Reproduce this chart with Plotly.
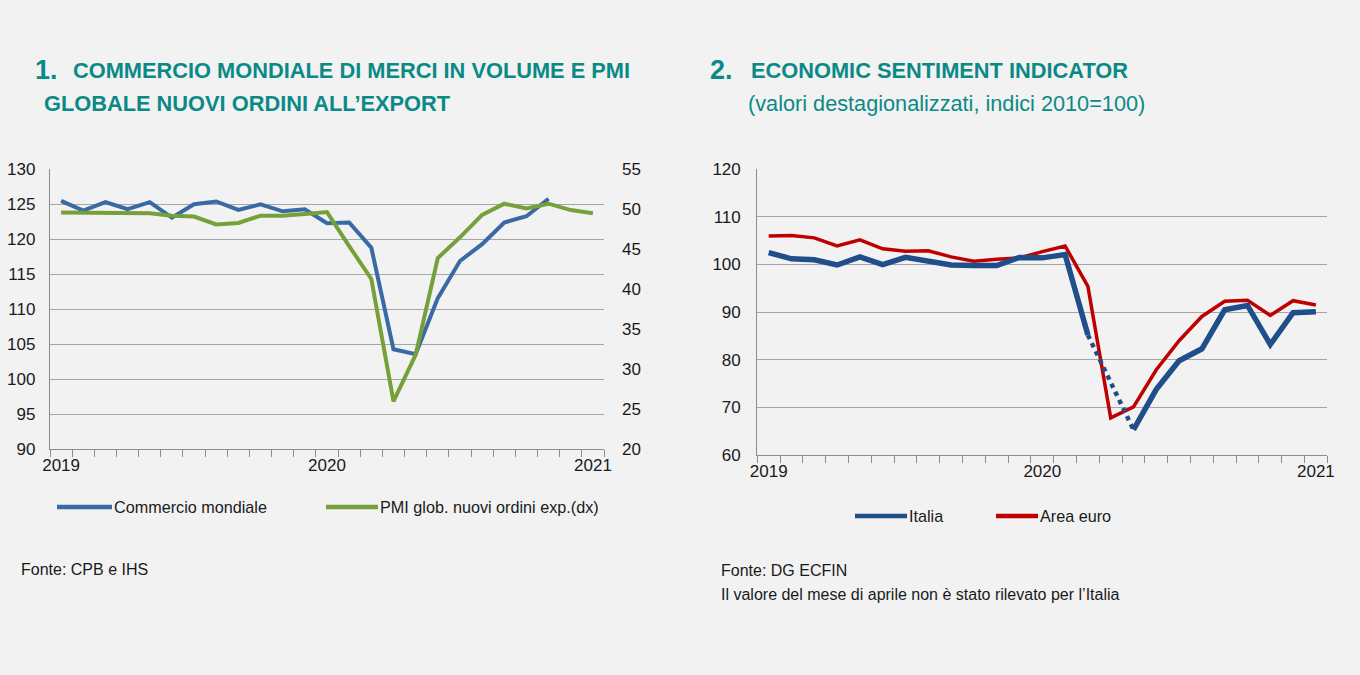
import plotly.graph_objects as go

# ---------------- data ----------------
months = ["2019-01", "2019-02", "2019-03", "2019-04", "2019-05", "2019-06", "2019-07", "2019-08",
          "2019-09", "2019-10", "2019-11", "2019-12", "2020-01", "2020-02", "2020-03", "2020-04",
          "2020-05", "2020-06", "2020-07", "2020-08", "2020-09", "2020-10", "2020-11", "2020-12",
          "2021-01"]
year_labels = ["2019", "2020", "2021"]
year_pos = [0, 12, 24]

commercio = [125.5, 124.1, 125.3, 124.3, 125.3, 123.1, 125.0, 125.4, 124.2, 125.0, 124.0, 124.3,
             122.3, 122.4, 118.8, 104.3, 103.6, 111.6, 116.9, 119.3, 122.4, 123.3, 125.8, None, None]
pmi = [49.6, 49.6, 49.5, 49.6, 49.5, 49.2, 49.1, 48.1, 48.3, 49.2, 49.2, 49.4,
       49.65, 45.4, 41.3, 26.0, 31.8, 43.9, 46.5, 49.3, 50.7, 50.1, 50.7, 49.9, 49.5]

italia = [102.5, 101.2, 101.0, 99.9, 101.6, 100.0, 101.5, 100.6, 99.9, 99.8, 99.8, 101.5,
          101.4, 102.1, 85.2, None, 65.3, 73.8, 79.8, 82.3, 90.5, 91.4, 83.2, 89.9, 90.1]
area_euro = [106.0, 106.1, 105.6, 103.9, 105.2, 103.3, 102.8, 102.9, 101.6, 100.7, 101.1, 101.4,
             102.7, 103.9, 95.4, 67.8, 70.1, 77.9, 84.0, 89.1, 92.3, 92.5, 89.3, 92.4, 91.5]

left1_ticks = [90, 95, 100, 105, 110, 115, 120, 125, 130]
right1_ticks = [20, 25, 30, 35, 40, 45, 50, 55]
left2_ticks = [60, 70, 80, 90, 100, 110, 120]

# ---------------- styles ----------------
FONT = "Liberation Sans Narrow, Arial Narrow, Liberation Sans, Arial, sans-serif"
BG = "#F2F2F2"
GRID = "#A6A6A6"
AXIS = "#8C8C8C"
TEAL = "#0A8A86"
C_COMM = "#3A6AA3"
C_PMI = "#76A03A"
C_ITA = "#1F4E8A"
C_EUR = "#C00000"

W, H = 1360, 675
def px(x):
    return x / W
def py(y):
    return 1 - y / H

xidx = list(range(len(months)))

fig = go.Figure()

fig.add_trace(go.Scatter(x=xidx, y=commercio, mode="lines", name="Commercio mondiale",
                         line=dict(color=C_COMM, width=4), xaxis="x", yaxis="y"))
fig.add_trace(go.Scatter(x=xidx, y=pmi, mode="lines", name="PMI glob. nuovi ordini exp.(dx)",
                         line=dict(color=C_PMI, width=4), xaxis="x", yaxis="y2"))

fig.add_trace(go.Scatter(x=xidx, y=area_euro, mode="lines", name="Area euro",
                         line=dict(color=C_EUR, width=3.5), xaxis="x2", yaxis="y3"))
fig.add_trace(go.Scatter(x=xidx, y=italia, mode="lines", name="Italia",
                         line=dict(color=C_ITA, width=5.5), xaxis="x2", yaxis="y3"))
# dotted connection across the missing April value
fig.add_trace(go.Scatter(x=[xidx[14], xidx[16]], y=[italia[14], italia[16]], mode="lines",
                         line=dict(color=C_ITA, width=4.5, dash="dot"), xaxis="x2", yaxis="y3",
                         showlegend=False))

tickfont = dict(family=FONT, size=17, color="#1A1A1A")
minor_ticks = [i - 0.5 for i in range(len(months) + 1)]

xcommon = dict(range=[-0.5, len(months) - 0.5], tickmode="array", tickvals=year_pos,
               ticktext=year_labels, ticks="", showgrid=False, zeroline=False, automargin=False,
               showline=True, linecolor=AXIS, linewidth=1.3, tickfont=tickfont,
               minor=dict(tickmode="array", tickvals=minor_ticks, ticks="outside",
                          ticklen=7, tickcolor=AXIS, tickwidth=1.3, showgrid=False))

fig.update_layout(
    width=W, height=H,
    margin=dict(l=0, r=0, t=0, b=0, autoexpand=False),
    paper_bgcolor=BG, plot_bgcolor=BG,
    showlegend=False,
    font=dict(family=FONT, color="#1A1A1A"),
    xaxis=dict(domain=[px(50), px(604)], anchor="y", **xcommon),
    yaxis=dict(domain=[py(449.3), py(169.3)], range=[90, 130], tickvals=left1_ticks,
               showgrid=True, gridcolor=GRID, gridwidth=1.2, zeroline=False, automargin=False,
               showline=True, linecolor=AXIS, linewidth=1.3, ticks="", tickfont=tickfont,
               ticklabelstandoff=10),
    yaxis2=dict(domain=[py(449.3), py(169.3)], range=[20, 55], tickvals=right1_ticks,
                overlaying="y", side="right", anchor="x", showgrid=False, zeroline=False,
                automargin=False, showline=False, ticks="", tickfont=tickfont,
                ticklabelstandoff=17),
    xaxis2=dict(domain=[px(757.3), px(1327.3)], anchor="y3", **xcommon),
    yaxis3=dict(domain=[py(455), py(169.3)], range=[60, 120], tickvals=left2_ticks,
                anchor="x2", showgrid=True, gridcolor=GRID, gridwidth=1.2, zeroline=False,
                automargin=False, showline=True, linecolor=AXIS, linewidth=1.3, ticks="",
                tickfont=tickfont, ticklabelstandoff=12),
)

ann = []
shapes = []

def text(x, y, s, size, bold=False, color="#1A1A1A", xanchor="left"):
    ann.append(dict(x=px(x), y=py(y), xref="paper", yref="paper", text=("<b>%s</b>" % s) if bold else s,
                    showarrow=False, xanchor=xanchor, yanchor="middle", borderpad=0, borderwidth=0,
                    font=dict(family=FONT, size=size, color=color)))

# titles
text(35, 70, "1.", 27, bold=True, color=TEAL)
text(73, 71, "COMMERCIO MONDIALE DI MERCI IN VOLUME E PMI", 21.8, bold=True, color=TEAL)
text(44, 103, "GLOBALE NUOVI ORDINI ALL\u2019EXPORT", 21.8, bold=True, color=TEAL)
text(710, 70, "2.", 27, bold=True, color=TEAL)
text(751, 71, "ECONOMIC SENTIMENT INDICATOR", 21.8, bold=True, color=TEAL)
text(748, 103, "(valori destagionalizzati, indici 2010=100)", 21.7, color=TEAL)

# legends
def legend_item(x0, x1, y, color, label):
    shapes.append(dict(type="line", xref="paper", yref="paper", x0=px(x0), x1=px(x1),
                       y0=py(y), y1=py(y), line=dict(color=color, width=4.5)))
    text(x1 + 2, y, label, 16.2)

legend_item(57, 112, 507, C_COMM, "Commercio mondiale")
legend_item(326, 378, 507, C_PMI, "PMI glob. nuovi ordini exp.(dx)")
legend_item(855, 907, 516, C_ITA, "Italia")
legend_item(996, 1038, 516, C_EUR, "Area euro")

# sources
text(21, 569, "Fonte: CPB e IHS", 16)
text(721, 570, "Fonte: DG ECFIN", 16)
text(721, 594, "Il valore del mese di aprile non \u00e8 stato rilevato per l\u2019Italia", 16)

fig.update_layout(annotations=ann, shapes=shapes)

page_fix = (
    "document.documentElement.style.margin='0';"
    "document.documentElement.style.padding='0';"
    "document.documentElement.style.overflow='hidden';"
    "document.documentElement.style.height='675px';"
    "document.documentElement.style.background='#F2F2F2';"
    "document.body.style.margin='0';"
    "document.body.style.padding='0';"
    "document.body.style.overflow='hidden';"
    "document.body.style.height='675px';"
    "document.body.style.background='#F2F2F2';"
    "var w=document.body.firstElementChild;"
    "if(w){w.style.height='675px';w.style.width='1360px';w.style.overflow='hidden';}"
)

fig.write_html("out.html", config={"displayModeBar": False}, post_script=page_fix)
